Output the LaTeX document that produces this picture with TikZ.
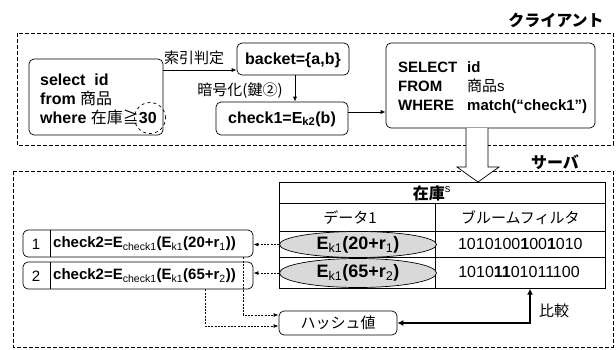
\documentclass[tikz,border=0pt]{standalone}
\usepackage{fontspec}
\setmainfont{Liberation Sans}
\newfontfamily\jp{Noto Sans CJK JP}
\usetikzlibrary{arrows.meta,calc,shapes.geometric}

\begin{document}
\begin{tikzpicture}[x=1pt,y=-1pt,
  region/.style={draw, line width=1pt, dash pattern=on 4pt off 2pt},
  rbox/.style={draw, rounded corners=5pt, fill=white, line width=0.7pt, inner sep=0pt},
  cell/.style={draw, line width=0.7pt, inner sep=0pt},
  arr/.style={-{Latex[length=5pt,width=4pt]}, line width=0.7pt},
  darr/.style={-{Latex[length=5pt,width=4pt]}, line width=1pt, dash pattern=on 2pt off 1.3pt},
  thickarr/.style={{Latex[length=6pt,width=6pt]}-{Latex[length=6pt,width=6pt]}, line width=1.8pt},
  bold/.style={font=\fontsize{16}{19}\selectfont\bfseries, inner sep=0pt},
  mid/.style={font=\fontsize{15}{19}\selectfont\bfseries, inner sep=0pt},
  big/.style={font=\fontsize{18}{20}\selectfont\bfseries, inner sep=0pt},
  jtext/.style={font=\jp\fontsize{15}{18}\selectfont, inner sep=0pt},
  jbold/.style={font=\jp\fontsize{16}{18}\selectfont\bfseries, inner sep=0pt},
]
\useasboundingbox (0,0) rectangle (616,349);

% client and server regions
\draw[region] (17,33) rectangle (613,145);
\draw[region] (13,171) rectangle (613,347);
\node[jbold] (clientlbl) at (556,20) {クライアント};
\node[jbold] (serverlbl) at (555,162) {サーバ};

% ---- client side ----
\node[rbox, minimum width=134pt, minimum height=76pt] (query) at (96,97) {};
\node[bold, anchor=west, align=left] (querytext) at (40,99)
  {select\ \ id\\from {\jp\mdseries 商品}\\where {\jp\mdseries 在庫≧}30};
\node[draw, dashed, line width=0.7pt, circle, minimum size=31pt, inner sep=0pt] (mark30) at (150,118) {};

\node[rbox, minimum width=112pt, minimum height=32pt] (backet) at (293,59) {};
\node[bold] (backettext) at (293,60) {backet=\{a,b\}};
\node[rbox, minimum width=132pt, minimum height=33pt] (check1) at (282,118.5) {};
\node[bold] (check1text) at (282,119) {check1=E$_{\mathbf{k2}}$(b)};

\node[rbox, minimum width=209pt, minimum height=85pt] (sel) at (490.5,85.5) {};
\node[mid, anchor=west, align=left] (seltext) at (398,88)
  {\makebox[69pt][l]{SELECT}id\\
   \makebox[69pt][l]{FROM}{\jp\mdseries 商品}{\mdseries s}\\
   \makebox[69pt][l]{WHERE}match(“check1”)};

\coordinate (idxstart) at (163,70);
\draw[arr] (idxstart) -- (idxstart -| backet.west);
\node[jtext] (idxlbl) at (194,58) {索引判定};
\coordinate (encstart) at (295,75);
\draw[arr] (backet.south -| encstart) -- (check1.north -| encstart);
\node[jtext] (enclbl) at (240,91) {暗号化(鍵②)};
\coordinate (qstart) at (348,112);
\draw[arr] (qstart) -- (qstart -| sel.west);

% ---- hollow arrow from client to server ----
\draw[fill=white, line width=0.7pt]
  (466,128) -- (466,167) -- (457,167) -- (478,182) -- (499,167) -- (488,167) -- (488,128);

% ---- server table ----
\node[cell, minimum width=326pt, minimum height=21pt, anchor=north west] (hdr) at (279,182) {};
\node[font=\jp\fontsize{16}{18}\selectfont\bfseries, inner sep=0pt] (hdrtext) at (432,193) {在庫$^{\mathrm{s}}$};
\node[cell, minimum width=156pt, minimum height=28pt, anchor=north west] (c11) at (279,203) {};
\node[cell, minimum width=170pt, minimum height=28pt, anchor=north west] (c12) at (435,203) {};
\node[cell, minimum width=156pt, minimum height=26pt, anchor=north west] (c21) at (279,231) {};
\node[cell, minimum width=170pt, minimum height=26pt, anchor=north west] (c22) at (435,231) {};
\node[cell, minimum width=156pt, minimum height=31pt, anchor=north west] (c31) at (279,257) {};
\node[cell, minimum width=170pt, minimum height=31pt, anchor=north west] (c32) at (435,257) {};
\node[jtext] (datalbl) at (350,218) {データ1};
\node[jtext] (bloomlbl) at (c12.center) {ブルームフィルタ};
\node[font=\fontsize{16}{18}\selectfont, inner sep=0pt] (bits1) at (c22.center)
  {1010100\textbf{1}00\textbf{1}010};
\node[font=\fontsize{16}{18}\selectfont, inner sep=0pt] (bits2) at (519,272)
  {1010\textbf{11}01011100};

\node[draw, ellipse, fill=black!15, line width=0.7pt, minimum width=157pt, minimum height=26pt, inner sep=0pt] (e1) at (358,244.5) {};
\node[big] (e1text) at (358,245) {E$_{\mathrm{k1}}$(20+r$_{\mathrm{1}}$)};
\node[draw, ellipse, fill=black!15, line width=0.7pt, minimum width=157pt, minimum height=29pt, inner sep=0pt] (e2) at (358,273) {};
\node[big] (e2text) at (358,273) {E$_{\mathrm{k1}}$(65+r$_{\mathrm{2}}$)};

% ---- result rows ----
\node[rbox, minimum width=230pt, minimum height=27pt] (row1) at (138,243.5) {};
\draw[line width=0.7pt] (50,230) -- (50,257);
\node[font=\fontsize{15}{18}\selectfont, inner sep=0pt] (num1) at (36,244) {1};
\node[mid, anchor=west] (f1) at (53,244) {check2=E$_{\mathrm{check1}}$(E$_{\mathrm{k1}}$(20+r$_{\mathrm{1}}$))};
\node[rbox, minimum width=230pt, minimum height=27pt] (row2) at (138,275.5) {};
\draw[line width=0.7pt] (50,262) -- (50,289);
\node[font=\fontsize{15}{18}\selectfont, inner sep=0pt] (num2) at (36,276) {2};
\node[mid, anchor=west] (f2) at (53,276) {check2=E$_{\mathrm{check1}}$(E$_{\mathrm{k1}}$(65+r$_{\mathrm{2}}$))};

\draw[darr] (e1.west) -- (e1.west -| row1.east);
\draw[darr] (e2.west) -- (e2.west -| row2.east);

% ---- hash value ----
\node[rbox, minimum width=118pt, minimum height=24pt] (hash) at (338,323) {};
\node[jtext] (hashtext) at (hash.center) {ハッシュ値};

\coordinate (h1) at (243,315);
\coordinate (h2) at (205,326);
\draw[darr] (h1 |- row1.south) -- (h1) -- (h1 -| hash.west);
\draw[darr] (h2 |- row2.south) -- (h2) -- (h2 -| hash.west);

\coordinate (cmp) at (530,323);
\draw[thickarr] (cmp |- c32.south) -- (cmp) -- (hash.east);
\node[jtext] (cmplbl) at (554,311) {比較};
\end{tikzpicture}
\end{document}
